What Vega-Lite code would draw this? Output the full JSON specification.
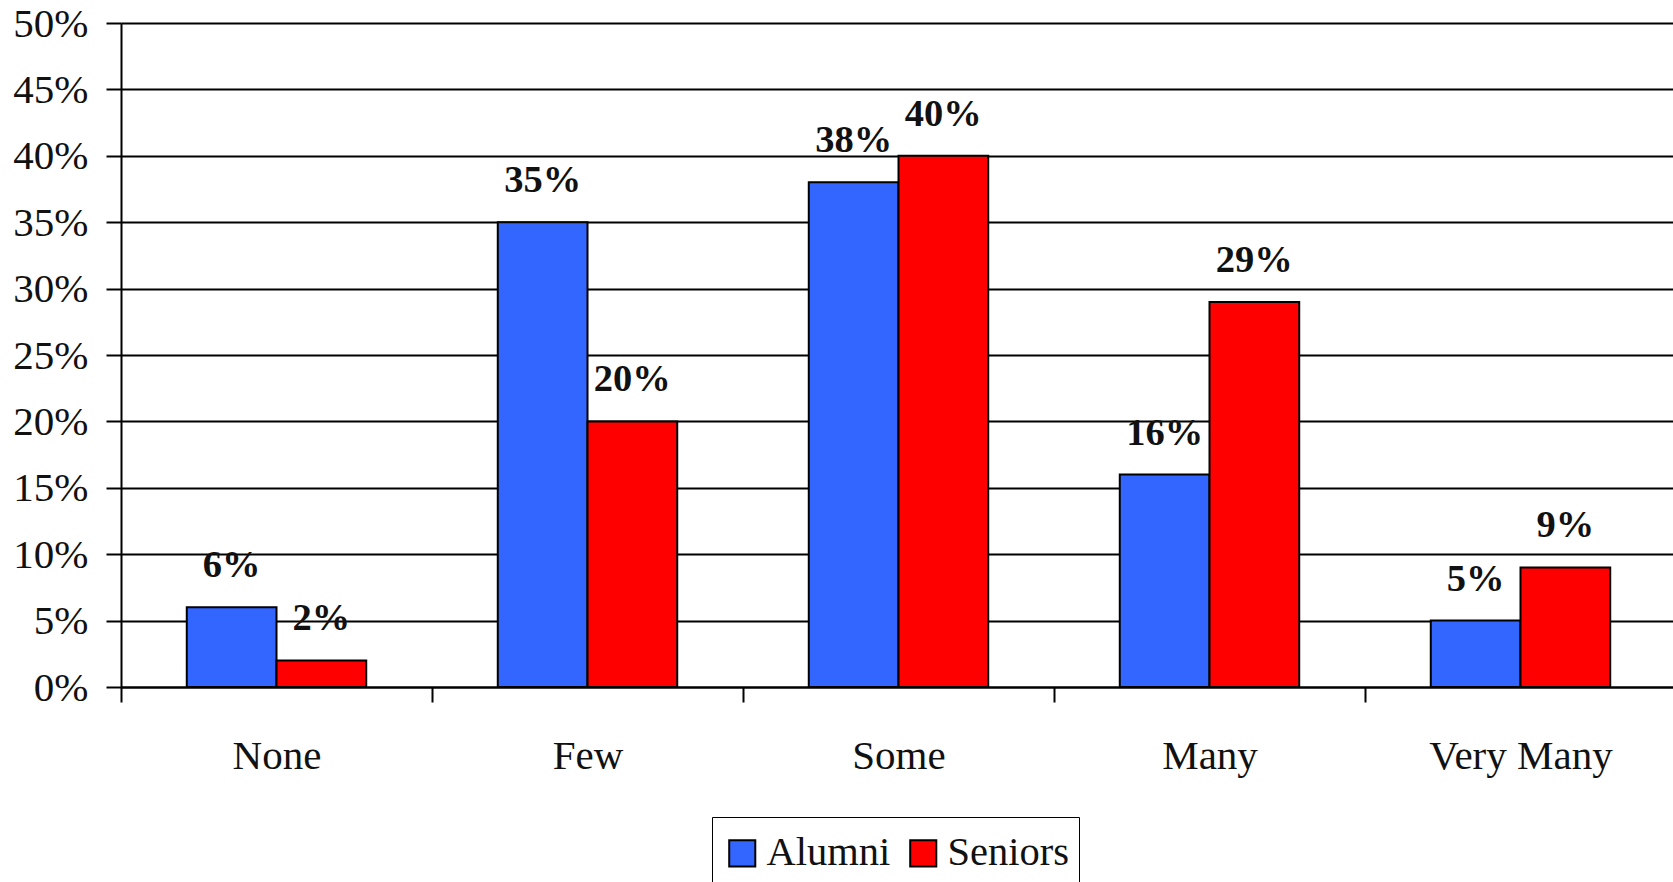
{
"$schema":"https://vega.github.io/schema/vega-lite/v6.json",
"width":1552,"height":664,
"autosize":{"type":"none"},
"padding":{"left":121,"top":23,"right":0,"bottom":195},
"background":"white",
"config":{"view":{"stroke":null},"font":"Liberation Serif"},
"data":{"values":[
{"category":"None","group":"Alumni","value":0.06},
{"category":"None","group":"Seniors","value":0.02},
{"category":"Few","group":"Alumni","value":0.35},
{"category":"Few","group":"Seniors","value":0.20},
{"category":"Some","group":"Alumni","value":0.38},
{"category":"Some","group":"Seniors","value":0.40},
{"category":"Many","group":"Alumni","value":0.16},
{"category":"Many","group":"Seniors","value":0.29},
{"category":"Very Many","group":"Alumni","value":0.05},
{"category":"Very Many","group":"Seniors","value":0.09}
]},
"encoding":{
"x":{"field":"category","type":"nominal","sort":["None","Few","Some","Many","Very Many"],
"scale":{"range":[0,1555],"paddingInner":0.423,"paddingOuter":0.2115},
"axis":{"title":null,"labelAngle":0,"labelFontSize":41,"labelLimit":500,"labelColor":"#111111","labelPadding":34,"tickOffset":-155.5,"labelOffset":155.5,"tickSize":15,"tickWidth":2,"tickColor":"black","domainColor":"black","domainWidth":2,"grid":false,"labelFont":"Liberation Serif"}},
"xOffset":{"field":"group","type":"nominal","sort":["Alumni","Seniors"],"scale":{"paddingInner":0,"paddingOuter":0}},
"y":{"field":"value","type":"quantitative","scale":{"domain":[0,0.5],"nice":false},
"axis":{"title":null,"values":[0,0.05,0.1,0.15,0.2,0.25,0.3,0.35,0.4,0.45,0.5],"format":".0%","labelFontSize":41,"labelColor":"#111111","labelPadding":18,"labelOffset":1,"tickSize":15,"tickWidth":2,"tickColor":"black","domainColor":"black","domainWidth":2,"grid":true,"gridColor":"black","gridWidth":2,"gridOpacity":1,"labelFont":"Liberation Serif"}}
},
"layer":[
{"mark":{"type":"bar","stroke":"black","strokeWidth":2},
"encoding":{"color":{"field":"group","type":"nominal","sort":["Alumni","Seniors"],
"scale":{"domain":["Alumni","Seniors"],"range":["#3366FF","#FF0000"]},
"legend":{"title":" ","titleFontSize":1,"titlePadding":5,"orient":"none","legendX":591,"legendY":794,"direction":"horizontal","columns":2,"symbolType":"square","symbolSize":680,"symbolStrokeColor":"black","symbolStrokeWidth":2,"symbolOpacity":1,"labelFontSize":40.5,"labelLimit":300,"labelColor":"#111111","labelFont":"Liberation Serif","strokeColor":"black","fillColor":"white","padding":10,"columnPadding":12,"labelOffset":4,"rowPadding":0}}}},
{"mark":{"type":"text","fontWeight":"bold","fontSize":38.5,"color":"#111111","baseline":"alphabetic","dy":-30,"font":"Liberation Serif"},
"encoding":{"text":{"field":"value","type":"quantitative","format":".0%"}}}
]
}
